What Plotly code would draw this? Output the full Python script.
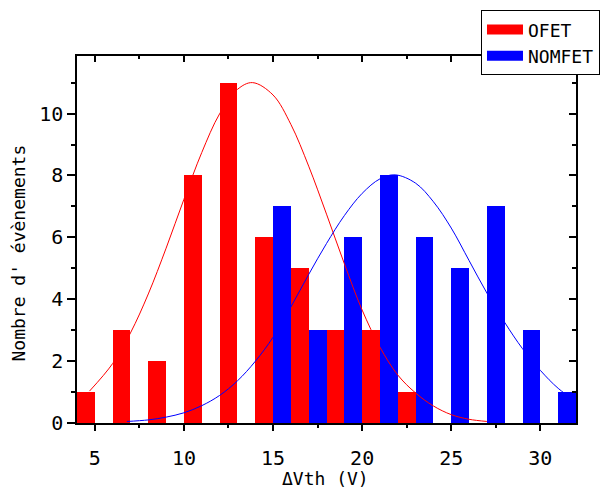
import plotly.graph_objects as go

# ---- data ----
bin_centers_ofet = [5, 7, 9, 11, 13, 15, 17, 19, 21, 23]
counts_ofet = [1, 3, 2, 8, 11, 6, 5, 3, 3, 1]

bin_centers_nomfet = [15, 17, 19, 21, 23, 25, 27, 29, 31]
counts_nomfet = [7, 3, 6, 8, 6, 5, 7, 3, 1]

# fitted curves
fit_ofet_x = [4.7, 6, 7, 8, 9, 10, 11, 12, 13, 13.85, 15, 16, 17, 18, 19, 20, 21, 22, 23, 24, 25, 26, 27]
fit_ofet_y = [1.03, 1.92, 2.91, 4.17, 5.65, 7.23, 8.74, 9.99, 10.78, 11.0, 10.6, 9.65, 8.3, 6.75, 5.15, 3.65, 2.45, 1.55, 0.97, 0.55, 0.27, 0.12, 0.05]

fit_nomfet_x = [6.8, 8, 9, 10, 11, 12, 13, 14, 15, 16, 17, 18, 19, 20, 21, 21.85, 23, 24, 25, 26, 27, 28, 29, 30, 31, 32]
fit_nomfet_y = [0.05, 0.1, 0.19, 0.33, 0.56, 0.89, 1.36, 1.99, 2.77, 3.75, 4.8, 5.8, 6.7, 7.42, 7.89, 8.02, 7.75, 7.15, 6.3, 5.25, 4.2, 3.25, 2.4, 1.7, 1.12, 0.7]

x_ticks = [5, 10, 15, 20, 25, 30]
y_ticks = [0, 2, 4, 6, 8, 10]

RED = "#FF0000"
BLUE = "#0000FF"
FONT = "DejaVu Sans Mono"

fig = go.Figure()
fig.add_trace(go.Bar(x=bin_centers_ofet, y=counts_ofet, marker=dict(color=RED, line=dict(width=0)),
                     showlegend=False, name="OFET"))
fig.add_trace(go.Bar(x=bin_centers_nomfet, y=counts_nomfet, marker=dict(color=BLUE, line=dict(width=0)),
                     showlegend=False, name="NOMFET"))
fig.add_trace(go.Scatter(x=fit_ofet_x, y=fit_ofet_y, mode="lines", line=dict(color=RED, width=1, shape="spline"),
                         showlegend=False, hoverinfo="skip"))
fig.add_trace(go.Scatter(x=fit_nomfet_x, y=fit_nomfet_y, mode="lines", line=dict(color=BLUE, width=1, shape="spline"),
                         showlegend=False, hoverinfo="skip"))
# legend entries
fig.add_trace(go.Scatter(x=[None], y=[None], mode="lines", line=dict(color=RED, width=16), name="OFET"))
fig.add_trace(go.Scatter(x=[None], y=[None], mode="lines", line=dict(color=BLUE, width=16), name="NOMFET"))
# dummy trace for mirrored axes
fig.add_trace(go.Scatter(x=[None], y=[None], xaxis="x2", yaxis="y2", showlegend=False, hoverinfo="skip"))

axis_common = dict(showgrid=False, zeroline=False, showline=True, linecolor="black", linewidth=1.5,
                   tickcolor="black", tickwidth=1.5, automargin=False)

fig.update_layout(
    width=600, height=480,
    margin=dict(l=69, r=32, t=48, b=65, autoexpand=False),
    paper_bgcolor="white", plot_bgcolor="white",
    barmode="group", bargap=0, bargroupgap=0,
    font=dict(family=FONT, size=20, color="black"),
    xaxis=dict(range=[4, 32], tickvals=x_ticks, ticks="outside", ticklen=6,
               minor=dict(dtick=2.5, tick0=0, ticks="outside", ticklen=3, tickcolor="black", tickwidth=1.5),
               ticklabelstandoff=10, tickfont=dict(family=FONT, size=20), **axis_common),
    yaxis=dict(range=[0, 11.86], tickvals=y_ticks, ticks="outside", ticklen=8,
               minor=dict(dtick=1, tick0=0, ticks="outside", ticklen=4, tickcolor="black", tickwidth=1.5),
               ticklabelstandoff=0, tickfont=dict(family=FONT, size=20), **axis_common),
    xaxis2=dict(range=[4, 32], overlaying="x", side="top", anchor="y2", tickvals=x_ticks, ticks="inside", ticklen=6,
                minor=dict(dtick=2.5, tick0=0, ticks="inside", ticklen=3, tickcolor="black", tickwidth=1.5),
                showticklabels=False, **axis_common),
    yaxis2=dict(range=[0, 11.86], overlaying="y", side="right", anchor="x2", tickvals=y_ticks, ticks="inside", ticklen=7,
                minor=dict(dtick=1, tick0=0, ticks="inside", ticklen=4, tickcolor="black", tickwidth=1.5),
                showticklabels=False, **axis_common),
    legend=dict(x=0.8096, y=1.1246, xanchor="left", yanchor="top", bgcolor="white",
                bordercolor="black", borderwidth=1, font=dict(family=FONT, size=18),
                itemwidth=36, tracegroupgap=0),
    annotations=[
        dict(text="Nombre d' évènements", xref="paper", yref="paper", x=-0.117, y=0.4635,
             xanchor="center", yanchor="middle", textangle=-90, showarrow=False,
             font=dict(family=FONT, size=18)),
        dict(text="ΔVth (V)", xref="paper", yref="paper", x=0.4985, y=-0.15,
             xanchor="center", yanchor="middle", showarrow=False,
             font=dict(family=FONT, size=18)),
    ],
)

fig.write_html("out.html")
